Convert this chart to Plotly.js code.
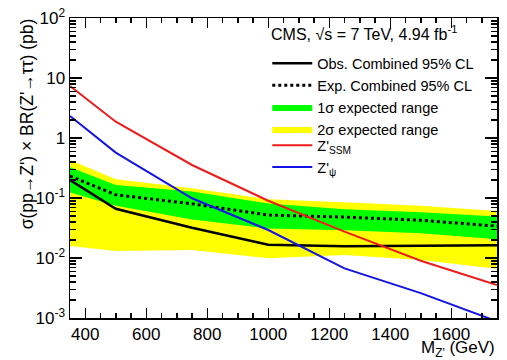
<!DOCTYPE html>
<html>
<head>
<meta charset="utf-8">
<script src="https://cdn.plot.ly/plotly-3.0.1.min.js"></script>
<style>html,body{margin:0;padding:0;background:#fff;}#plot{width:507px;height:360px;}</style>
</head>
<body>
<div id="plot"></div>
<script>
// Z' mass points (GeV)
const mass = [350, 500, 750, 1000, 1250, 1500, 1750];
// Observed and expected combined 95% CL limits (pb)
const observed = [0.20, 0.066, 0.032, 0.0167, 0.0157, 0.0162, 0.0163];
const expected = [0.232, 0.113, 0.080, 0.052, 0.048, 0.0425, 0.034];
// 1 sigma band (pb)
const oneSigmaLow = [0.123, 0.074, 0.044, 0.031, 0.029, 0.0258, 0.0205];
const oneSigmaHigh = [0.325, 0.165, 0.128, 0.081, 0.065, 0.058, 0.049];
// 2 sigma band (pb)
const twoSigmaLow = [0.0158, 0.0131, 0.0136, 0.0099, 0.0112, 0.0093, 0.0066];
const twoSigmaHigh = [0.43, 0.205, 0.145, 0.095, 0.085, 0.0745, 0.061];
// Theory cross sections (pb)
const zSSM = [7.36, 1.87, 0.355, 0.090, 0.0275, 0.0090, 0.00355];
const zPsi = [2.33, 0.57, 0.099, 0.0293, 0.0067, 0.0026, 0.00088];
// Tick labels
const xTicks = [400, 600, 800, 1000, 1200, 1400, 1600];
const yTickVals = [0.001, 0.01, 0.1, 1, 10, 100];
const yTickText = ["10<sup>-3</sup>", "10<sup>-2</sup>", "10<sup>-1</sup>", "1", "10", "10<sup>2</sup>"];

// minor tick positions
const xMinor = [];
for (let v = 350; v <= 1750; v += 50) if (xTicks.indexOf(v) < 0) xMinor.push(v);
const yMinor = [];
for (let e = -3; e < 2; e++) for (let d = 2; d <= 9; d++) yMinor.push(d * Math.pow(10, e));

const font = "Liberation Sans, Arial, sans-serif";

const traces = [
  {x: mass, y: twoSigmaLow, mode: 'lines', line: {width: 0, color: 'rgba(0,0,0,0)'}, showlegend: false, hoverinfo: 'skip'},
  {x: mass, y: twoSigmaHigh, mode: 'lines', fill: 'tonexty', fillcolor: '#ffff00', line: {width: 0, color: '#ffff00'}, name: '2σ expected range', legendrank: 4},
  {x: mass, y: oneSigmaLow, mode: 'lines', line: {width: 0, color: 'rgba(0,0,0,0)'}, showlegend: false, hoverinfo: 'skip'},
  {x: mass, y: oneSigmaHigh, mode: 'lines', fill: 'tonexty', fillcolor: '#00ff00', line: {width: 0, color: '#00ff00'}, name: '1σ expected range', legendrank: 3},
  {x: mass, y: expected, mode: 'lines', line: {color: '#000', width: 3, dash: 'dot'}, name: 'Exp. Combined 95% CL', legendrank: 2},
  {x: mass, y: observed, mode: 'lines', line: {color: '#000', width: 2.5}, name: 'Obs. Combined 95% CL', legendrank: 1},
  {x: mass, y: zSSM, mode: 'lines', line: {color: '#ee1c1c', width: 2}, name: "Z'<sub>SSM</sub>", legend: 'legend2', legendrank: 5},
  {x: mass, y: zPsi, mode: 'lines', line: {color: '#1414e6', width: 2}, name: "Z'<sub>ψ</sub>", legend: 'legend2', legendrank: 6},
  // invisible trace to activate mirror axes
  {x: [mass[0]], y: [observed[0]], xaxis: 'x2', yaxis: 'y2', mode: 'markers', marker: {opacity: 0}, showlegend: false, hoverinfo: 'skip'}
];

const frame = {showline: true, linecolor: '#000', linewidth: 1.5, showgrid: false, zeroline: false,
               ticks: 'inside', tickwidth: 1.5, tickcolor: '#000'};
const xMinorSpec = {tickvals: xMinor, ticks: 'inside', ticklen: 5, tickwidth: 1.5, tickcolor: '#000', showgrid: false};
const yMinorSpec = {tickvals: yMinor, ticks: 'inside', ticklen: 6, tickwidth: 1.5, tickcolor: '#000', showgrid: false};

const legendBase = {
  xanchor: 'left', yanchor: 'top', bgcolor: 'rgba(0,0,0,0)', borderwidth: 0,
  font: {family: font, size: 14.5, color: '#000'},
  tracegroupgap: 0, itemwidth: 40, traceorder: 'normal'
};

const layout = {
  width: 507, height: 360,
  margin: {l: 70, r: 10, t: 18, b: 42},
  paper_bgcolor: '#fff', plot_bgcolor: '#fff',
  font: {family: font, size: 17, color: '#000'},
  showlegend: true,
  legend: Object.assign({}, legendBase, {x: 0.462, y: 0.902}),
  legend2: Object.assign({}, legendBase, {x: 0.462, y: 0.629}),
  xaxis: Object.assign({}, frame, {
    type: 'linear', range: [350, 1750],
    tickvals: xTicks, ticklen: 10,
    tickfont: {family: font, size: 17},
    minor: xMinorSpec
  }),
  yaxis: Object.assign({}, frame, {
    type: 'log', range: [-3, 2],
    tickvals: yTickVals, ticktext: yTickText, ticklen: 12,
    tickfont: {family: font, size: 17},
    minor: yMinorSpec
  }),
  xaxis2: Object.assign({}, frame, {
    type: 'linear', range: [350, 1750], overlaying: 'x', side: 'top', anchor: 'y2',
    tickvals: xTicks, ticklen: 10, showticklabels: false,
    minor: xMinorSpec
  }),
  yaxis2: Object.assign({}, frame, {
    type: 'log', range: [-3, 2], overlaying: 'y', side: 'right', anchor: 'x2',
    tickvals: yTickVals, ticklen: 12, showticklabels: false,
    minor: yMinorSpec
  }),
  annotations: [
    {xref: 'paper', yref: 'paper', x: 0.466, y: 0.91, xanchor: 'left', yanchor: 'bottom',
     text: "CMS, √s = 7 TeV, 4.94 fb<sup>-1</sup>", showarrow: false, font: {family: font, size: 16}},
    {xref: 'paper', yref: 'paper', x: 1.0, y: -0.06, xanchor: 'right', yanchor: 'top',
     text: "M<sub>Z'</sub> (GeV)", showarrow: false, font: {family: font, size: 17}},
    {xref: 'paper', yref: 'paper', x: -0.10, y: 1.005, xanchor: 'center', yanchor: 'top', textangle: -90,
     text: "σ(pp→Z') × BR(Z'→ττ) (pb)", showarrow: false, font: {family: font, size: 17.5}}
  ]
};

Plotly.newPlot('plot', traces, layout, {displayModeBar: false, staticPlot: true});
</script>
</body>
</html>
